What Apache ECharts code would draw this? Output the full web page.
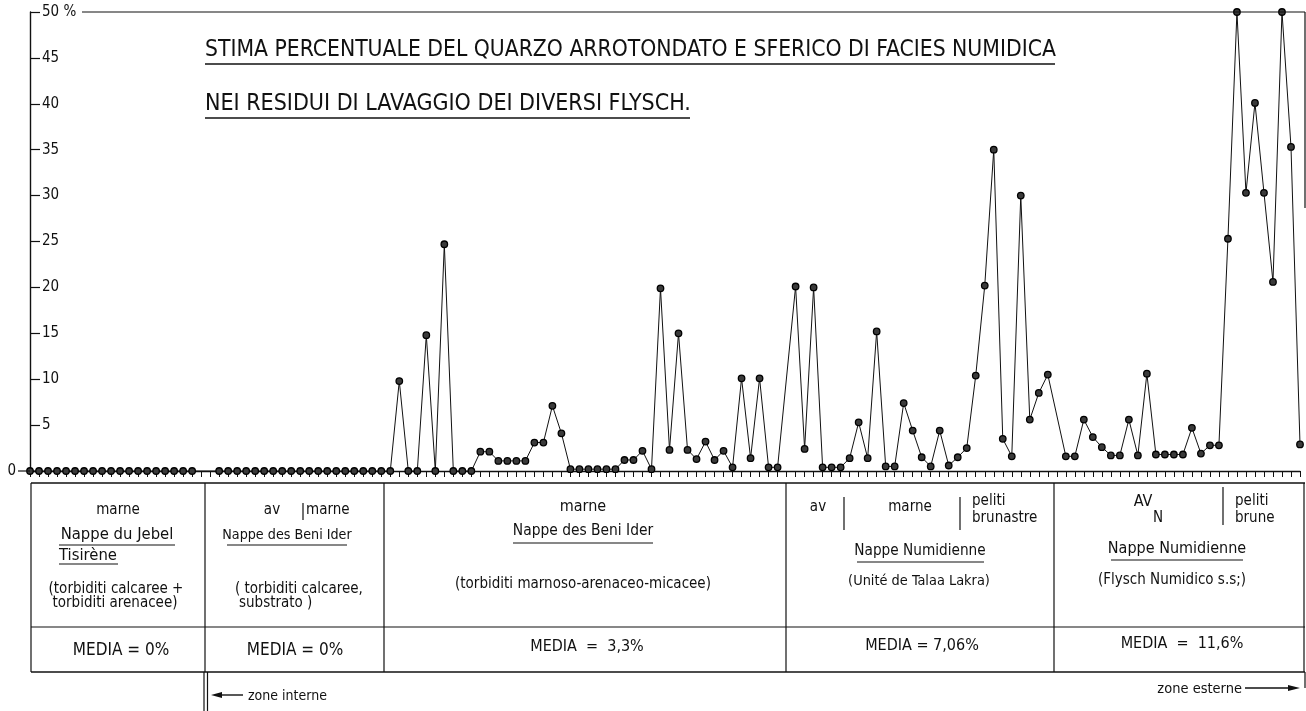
<!DOCTYPE html>
<html><head><meta charset="utf-8">
<script src="https://cdn.jsdelivr.net/npm/echarts@6/dist/echarts.min.js"></script>
<style>html,body{margin:0;padding:0;background:#fff}#c{width:1306px;height:711px}</style>
</head><body><div id="c"></div>
<script>
// ---- data (percent of rounded/spherical quartz per sample slot; null = empty slot) ----
const groupJebel = [0,0,0,0,0,0,0,0,0,0,0,0,0,0,0,0,0,0,0];
const groupBeniIderAv = [0,0,0,0,0,0,0,0,0,0,0,0,0,0,0,0,0,0,0];
const groupBeniIderMarne = [0,9.8,0,0,14.8,0,24.7,0,0,0,2.1,2.1,1.1,1.1,1.1,1.1,3.1,3.1,7.1,4.1,
  0.2,0.2,0.2,0.2,0.2,0.2,1.2,1.2,2.2,0.2,19.9,2.3,15.0,2.3,1.3,3.2,1.2,2.2,0.4,10.1,1.4,10.1,0.4,0.4];
const groupTalaaLakra = [20.1,2.4,20.0,0.4,0.4,0.4,1.4,5.3,1.4,15.2,0.5,0.5,7.4,4.4,1.5,0.5,4.4,0.6,1.5,2.5,
  10.4,20.2,35.0,3.5,1.6,30.0,5.6,8.5,10.5];
const groupFlyschNumidico = [1.6,1.6,5.6,3.7,2.6,1.7,1.7,5.6,1.7,10.6,1.8,1.8,1.8,1.8,4.7,1.9,2.8,2.8,
  25.3,50,30.3,40.1,30.3,20.6,50,35.3,2.9];
const values = [].concat(groupJebel, [null, null], groupBeniIderAv, groupBeniIderMarne, [null],
  groupTalaaLakra, [null], groupFlyschNumidico);
const slots = values.map((v, i) => String(i + 1));
const yMin = 0, yMax = 50, yStep = 5;

const titleLines = ['STIMA PERCENTUALE DEL QUARZO ARROTONDATO E SFERICO DI FACIES NUMIDICA',
  'NEI RESIDUI DI LAVAGGIO DEI DIVERSI FLYSCH.'];
const mediaLabels = ['MEDIA = 0%', 'MEDIA = 0%', 'MEDIA  =  3,3%', 'MEDIA = 7,06%', 'MEDIA  =  11,6%'];

const FONT = "'Liberation Sans Narrow','DejaVu Sans Condensed','Arial Narrow',sans-serif";
const INK = '#111';

const chart = echarts.init(document.getElementById('c'), null, {renderer: 'canvas'});

function T(x, y, s, size, align, extra) {
  return Object.assign({type: 'text', z: 50, x: x, y: y, style: {
    text: s, fontFamily: FONT, fontSize: size || 15, fill: INK,
    align: align || 'center', textAlign: align || 'center',
    verticalAlign: 'middle', textVerticalAlign: 'middle'}}, extra || {});
}
function L(x1, y1, x2, y2, w) {
  return {type: 'line', z: 50, shape: {x1: x1, y1: y1, x2: x2, y2: y2}, style: {stroke: INK, lineWidth: w || 1.2}};
}
function P(pts) {
  return {type: 'polygon', z: 50, shape: {points: pts}, style: {fill: INK}};
}

const TOP = 483, SEP = 627, BOT = 672;
const cols = [31, 205, 384, 786, 1054, 1304];

const g = [];
// top frame
g.push(L(82, 12, 1305, 12, 1.2), L(1305, 12, 1305, 208, 1.2));
g.push(L(18, 471, 30, 471, 1.2));
// title
g.push(T(205, 50, titleLines[0], 22.7, 'left'), L(205, 64, 1055, 64, 1.6));
g.push(T(205, 104, titleLines[1], 23, 'left'), L(205, 118, 690, 118, 1.6));
// table frame
g.push(L(31, TOP, 1305, TOP, 1.4), L(31, SEP, 1305, SEP, 1.2), L(31, BOT, 1305, BOT, 1.4));
cols.forEach(x => g.push(L(x, TOP, x, BOT, 1.2)));
// column 1
g.push(T(118, 510, 'marne', 15), T(117, 535, 'Nappe du Jebel', 16.5), L(59, 545, 175, 545),
  T(59, 556, 'Tisirène', 16.5, 'left'), L(59, 564, 118, 564),
  T(116, 589, '(torbiditi calcaree +', 15), T(115, 603, 'torbiditi arenacee)', 15),
  T(121, 651, mediaLabels[0], 17));
// column 2
g.push(T(272, 510, 'av', 15), L(303, 503, 303, 520), T(306, 510, 'marne', 15, 'left'),
  T(287, 535, 'Nappe des Beni Ider', 14.2), L(227, 545, 347, 545),
  T(235, 589, '( torbiditi calcaree,', 15, 'left'), T(239, 603, 'substrato )', 15, 'left'),
  T(295, 651, mediaLabels[1], 17));
// column 3
g.push(T(583, 507, 'marne', 16), T(583, 531, 'Nappe des Beni Ider', 15.4), L(513, 543, 653, 543),
  T(583, 584, '(torbiditi marnoso-arenaceo-micacee)', 15),
  T(587, 647, mediaLabels[2], 16));
// column 4
g.push(T(818, 507, 'av', 15), L(844, 497, 844, 530), T(910, 507, 'marne', 15), L(960, 497, 960, 530),
  T(972, 501, 'peliti', 15, 'left'), T(972, 518, 'brunastre', 15, 'left'),
  T(920, 551, 'Nappe Numidienne', 15.2), L(857, 562, 984, 562),
  T(919, 581, '(Unité de Talaa Lakra)', 14.4),
  T(922, 646, mediaLabels[3], 16));
// column 5
g.push(T(1143, 502, 'AV', 16), T(1158, 518, 'N', 15), L(1223, 487, 1223, 525),
  T(1235, 501, 'peliti', 15, 'left'), T(1235, 518, 'brune', 15, 'left'),
  T(1177, 549, 'Nappe Numidienne', 16), L(1111, 560, 1243, 560),
  T(1172, 580, '(Flysch Numidico s.s;)', 15),
  T(1182, 644, mediaLabels[4], 16));
// zone markers
g.push(L(204, BOT, 204, 711, 1.2), L(207.5, BOT, 207.5, 711, 1.2),
  L(218, 695, 243, 695, 1.4), P([[211, 695], [222, 692], [222, 698]]),
  T(248, 696, 'zone interne', 14, 'left'));
g.push(L(1305, BOT, 1305, 688, 1.2),
  L(1245, 688, 1292, 688, 1.4), P([[1300, 688], [1288, 685], [1288, 691]]),
  T(1242, 689, 'zone esterne', 14.5, 'right'));

chart.setOption({
  animation: false,
  backgroundColor: '#fff',
  grid: {left: 30, right: 6, top: 12, bottom: 240, containLabel: false},
  xAxis: [
    {type: 'category', data: slots, boundaryGap: false, axisLine: {show: false},
     axisTick: {show: false}, axisLabel: {show: false}, splitLine: {show: false}},
    {type: 'category', data: slots, boundaryGap: false, position: 'bottom', offset: 12,
     axisLine: {show: true, lineStyle: {color: INK, width: 1.4}},
     axisTick: {show: true, length: 6, interval: 0, lineStyle: {color: INK, width: 1}},
     axisLabel: {show: false}, splitLine: {show: false}}
  ],
  yAxis: [
    {type: 'value', min: yMin, max: yMax, interval: yStep, position: 'left',
     axisLine: {show: true, onZero: false, lineStyle: {color: INK, width: 1.4}},
     axisTick: {show: true, inside: true, length: 10, lineStyle: {color: INK, width: 1.2}},
     axisLabel: {inside: true, margin: 12, color: INK, fontFamily: FONT, fontSize: 15,
       formatter: v => v === yMax ? v + ' %' : (v === yMin ? '' : String(v))},
     splitLine: {show: false}},
    {type: 'value', min: yMin, max: yMax, interval: yMax, position: 'left',
     axisLine: {show: false}, axisTick: {show: false},
     axisLabel: {margin: 14, color: INK, fontFamily: FONT, fontSize: 15,
       formatter: v => v === yMin ? String(v) : ''},
     splitLine: {show: false}}
  ],
  series: [{
    type: 'line', data: values, xAxisIndex: 0, yAxisIndex: 0, connectNulls: true,
    symbol: 'circle', symbolSize: 6.5, showAllSymbol: true, clip: false,
    lineStyle: {color: INK, width: 1},
    itemStyle: {color: '#3a3a3a', borderColor: '#000', borderWidth: 1.3},
    z: 10
  }],
  graphic: g
});
</script></body></html>
